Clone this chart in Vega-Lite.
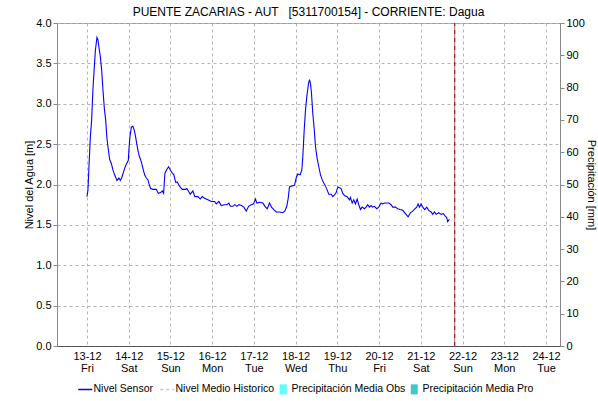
{
  "$schema": "https://vega.github.io/schema/vega-lite/v6.json",
  "width": 503,
  "height": 323,
  "autosize": {"type": "none"},
  "padding": {"left": 57, "top": 23, "right": 38, "bottom": 55},
  "background": "#ffffff",
  "config": {
    "font": "Liberation Sans",
    "view": {"stroke": "#999999", "strokeWidth": 1},
    "axis": {"labelFont": "Liberation Sans", "titleFont": "Liberation Sans", "labelFontSize": 11, "titleFontSize": 11, "titleFontWeight": "normal", "labelColor": "#000000", "titleColor": "#000000"}
  },
  "title": {
    "text": "PUENTE ZACARIAS - AUT \u00a0 [5311700154] - CORRIENTE: Dagua",
    "font": "Liberation Sans", "fontSize": 12, "fontWeight": "normal", "color": "#000000",
    "anchor": "middle", "frame": "group", "offset": -2
  },
  "encoding": {
    "x": {
      "field": "t", "type": "temporal",
      "scale": {"domain": [{"year": 2024, "month": 12, "date": 12, "hours": 6, "minutes": 46}, {"year": 2024, "month": 12, "date": 24, "hours": 8, "minutes": 4}]},
      "axis": {
        "title": null,
        "tickCount": {"interval": "day", "step": 1},
        "labelExpr": "[timeFormat(datum.value, '%d-%m'), timeFormat(datum.value, '%a')]",
        "grid": true, "gridDash": [3, 3], "gridColor": "#b4b4b4",
        "ticks": false,
        "domainColor": "#000000", "domainDash": [1, 1],
        "labelPadding": 4, "labelLineHeight": 12,
        "labelFlush": false, "labelOverlap": false, "labelBound": false
      }
    }
  },
  "layer": [
    {
      "data": {"values": [
        {"t": "2024-12-13T00:00", "v": 1.85},
        {"t": "2024-12-13T00:34", "v": 1.93},
        {"t": "2024-12-13T01:09", "v": 2.22},
        {"t": "2024-12-13T01:57", "v": 2.59},
        {"t": "2024-12-13T02:42", "v": 2.80},
        {"t": "2024-12-13T03:27", "v": 3.19},
        {"t": "2024-12-13T04:15", "v": 3.46},
        {"t": "2024-12-13T04:50", "v": 3.66},
        {"t": "2024-12-13T05:45", "v": 3.82},
        {"t": "2024-12-13T06:19", "v": 3.79},
        {"t": "2024-12-13T06:54", "v": 3.70},
        {"t": "2024-12-13T07:42", "v": 3.58},
        {"t": "2024-12-13T08:27", "v": 3.42},
        {"t": "2024-12-13T09:12", "v": 3.17},
        {"t": "2024-12-13T10:00", "v": 2.94},
        {"t": "2024-12-13T10:45", "v": 2.80},
        {"t": "2024-12-13T11:30", "v": 2.57},
        {"t": "2024-12-13T12:18", "v": 2.43},
        {"t": "2024-12-13T13:03", "v": 2.31},
        {"t": "2024-12-13T14:01", "v": 2.26},
        {"t": "2024-12-13T14:56", "v": 2.18},
        {"t": "2024-12-13T15:55", "v": 2.12},
        {"t": "2024-12-13T17:14", "v": 2.05},
        {"t": "2024-12-13T18:23", "v": 2.08},
        {"t": "2024-12-13T19:12", "v": 2.05},
        {"t": "2024-12-13T19:57", "v": 2.08},
        {"t": "2024-12-13T20:41", "v": 2.13},
        {"t": "2024-12-13T21:40", "v": 2.20},
        {"t": "2024-12-13T22:38", "v": 2.25},
        {"t": "2024-12-13T23:47", "v": 2.30},
        {"t": "2024-12-14T00:08", "v": 2.43},
        {"t": "2024-12-14T00:43", "v": 2.59},
        {"t": "2024-12-14T01:31", "v": 2.71},
        {"t": "2024-12-14T02:26", "v": 2.72},
        {"t": "2024-12-14T03:14", "v": 2.67},
        {"t": "2024-12-14T03:59", "v": 2.59},
        {"t": "2024-12-14T04:44", "v": 2.49},
        {"t": "2024-12-14T05:32", "v": 2.40},
        {"t": "2024-12-14T06:17", "v": 2.34},
        {"t": "2024-12-14T07:16", "v": 2.28},
        {"t": "2024-12-14T08:11", "v": 2.20},
        {"t": "2024-12-14T09:10", "v": 2.12},
        {"t": "2024-12-14T10:08", "v": 2.08},
        {"t": "2024-12-14T11:03", "v": 2.06},
        {"t": "2024-12-14T11:38", "v": 2.01},
        {"t": "2024-12-14T12:37", "v": 1.95},
        {"t": "2024-12-14T13:56", "v": 1.94},
        {"t": "2024-12-14T15:53", "v": 1.94},
        {"t": "2024-12-14T17:02", "v": 1.89},
        {"t": "2024-12-14T18:21", "v": 1.90},
        {"t": "2024-12-14T19:20", "v": 1.92},
        {"t": "2024-12-14T20:05", "v": 1.89},
        {"t": "2024-12-14T20:50", "v": 2.14},
        {"t": "2024-12-14T21:59", "v": 2.19},
        {"t": "2024-12-14T22:57", "v": 2.22},
        {"t": "2024-12-14T23:56", "v": 2.18},
        {"t": "2024-12-15T01:05", "v": 2.14},
        {"t": "2024-12-15T02:00", "v": 2.12},
        {"t": "2024-12-15T02:59", "v": 2.03},
        {"t": "2024-12-15T03:57", "v": 2.03},
        {"t": "2024-12-15T04:42", "v": 2.00},
        {"t": "2024-12-15T05:51", "v": 1.96},
        {"t": "2024-12-15T06:50", "v": 1.94},
        {"t": "2024-12-15T08:43", "v": 1.94},
        {"t": "2024-12-15T09:28", "v": 1.95},
        {"t": "2024-12-15T11:25", "v": 1.88},
        {"t": "2024-12-15T12:55", "v": 1.92},
        {"t": "2024-12-15T14:04", "v": 1.85},
        {"t": "2024-12-15T15:47", "v": 1.85},
        {"t": "2024-12-15T17:10", "v": 1.82},
        {"t": "2024-12-15T18:19", "v": 1.85},
        {"t": "2024-12-15T19:38", "v": 1.83},
        {"t": "2024-12-15T21:32", "v": 1.81},
        {"t": "2024-12-15T23:29", "v": 1.79},
        {"t": "2024-12-16T01:23", "v": 1.79},
        {"t": "2024-12-16T02:22", "v": 1.76},
        {"t": "2024-12-16T03:52", "v": 1.79},
        {"t": "2024-12-16T05:14", "v": 1.74},
        {"t": "2024-12-16T07:08", "v": 1.75},
        {"t": "2024-12-16T08:28", "v": 1.75},
        {"t": "2024-12-16T09:37", "v": 1.77},
        {"t": "2024-12-16T10:25", "v": 1.73},
        {"t": "2024-12-16T11:55", "v": 1.73},
        {"t": "2024-12-16T13:04", "v": 1.75},
        {"t": "2024-12-16T14:13", "v": 1.73},
        {"t": "2024-12-16T15:21", "v": 1.75},
        {"t": "2024-12-16T16:55", "v": 1.74},
        {"t": "2024-12-16T18:14", "v": 1.72},
        {"t": "2024-12-16T19:37", "v": 1.67},
        {"t": "2024-12-16T20:56", "v": 1.73},
        {"t": "2024-12-16T22:29", "v": 1.75},
        {"t": "2024-12-16T23:48", "v": 1.76},
        {"t": "2024-12-17T00:57", "v": 1.82},
        {"t": "2024-12-17T01:42", "v": 1.77},
        {"t": "2024-12-17T03:15", "v": 1.78},
        {"t": "2024-12-17T05:09", "v": 1.77},
        {"t": "2024-12-17T06:42", "v": 1.72},
        {"t": "2024-12-17T07:41", "v": 1.70},
        {"t": "2024-12-17T09:00", "v": 1.77},
        {"t": "2024-12-17T10:09", "v": 1.72},
        {"t": "2024-12-17T11:28", "v": 1.69},
        {"t": "2024-12-17T12:51", "v": 1.66},
        {"t": "2024-12-17T14:45", "v": 1.66},
        {"t": "2024-12-17T16:38", "v": 1.65},
        {"t": "2024-12-17T17:47", "v": 1.67},
        {"t": "2024-12-17T18:56", "v": 1.73},
        {"t": "2024-12-17T19:45", "v": 1.83},
        {"t": "2024-12-17T20:29", "v": 1.97},
        {"t": "2024-12-17T21:28", "v": 1.98},
        {"t": "2024-12-17T23:22", "v": 1.99},
        {"t": "2024-12-18T00:20", "v": 2.08},
        {"t": "2024-12-18T01:16", "v": 2.13},
        {"t": "2024-12-18T02:38", "v": 2.12},
        {"t": "2024-12-18T03:34", "v": 2.18},
        {"t": "2024-12-18T04:08", "v": 2.34},
        {"t": "2024-12-18T04:56", "v": 2.67},
        {"t": "2024-12-18T05:41", "v": 2.92},
        {"t": "2024-12-18T06:26", "v": 3.09},
        {"t": "2024-12-18T07:25", "v": 3.25},
        {"t": "2024-12-18T07:59", "v": 3.30},
        {"t": "2024-12-18T08:34", "v": 3.25},
        {"t": "2024-12-18T09:08", "v": 3.13},
        {"t": "2024-12-18T09:53", "v": 2.88},
        {"t": "2024-12-18T10:41", "v": 2.69},
        {"t": "2024-12-18T11:26", "v": 2.47},
        {"t": "2024-12-18T12:25", "v": 2.32},
        {"t": "2024-12-18T13:20", "v": 2.22},
        {"t": "2024-12-18T14:19", "v": 2.12},
        {"t": "2024-12-18T15:17", "v": 2.06},
        {"t": "2024-12-18T16:12", "v": 2.02},
        {"t": "2024-12-18T17:11", "v": 1.98},
        {"t": "2024-12-18T18:10", "v": 1.93},
        {"t": "2024-12-18T19:05", "v": 1.88},
        {"t": "2024-12-18T20:28", "v": 1.88},
        {"t": "2024-12-18T21:23", "v": 1.85},
        {"t": "2024-12-18T22:21", "v": 1.87},
        {"t": "2024-12-18T23:20", "v": 1.90},
        {"t": "2024-12-19T00:15", "v": 1.97},
        {"t": "2024-12-19T01:14", "v": 1.96},
        {"t": "2024-12-19T02:12", "v": 1.95},
        {"t": "2024-12-19T03:07", "v": 1.89},
        {"t": "2024-12-19T04:16", "v": 1.86},
        {"t": "2024-12-19T05:39", "v": 1.85},
        {"t": "2024-12-19T06:58", "v": 1.81},
        {"t": "2024-12-19T07:33", "v": 1.84},
        {"t": "2024-12-19T08:32", "v": 1.77},
        {"t": "2024-12-19T09:27", "v": 1.81},
        {"t": "2024-12-19T10:25", "v": 1.76},
        {"t": "2024-12-19T11:24", "v": 1.82},
        {"t": "2024-12-19T12:19", "v": 1.75},
        {"t": "2024-12-19T13:18", "v": 1.69},
        {"t": "2024-12-19T14:16", "v": 1.72},
        {"t": "2024-12-19T15:35", "v": 1.70},
        {"t": "2024-12-19T16:34", "v": 1.72},
        {"t": "2024-12-19T17:29", "v": 1.75},
        {"t": "2024-12-19T18:28", "v": 1.72},
        {"t": "2024-12-19T19:27", "v": 1.74},
        {"t": "2024-12-19T20:22", "v": 1.72},
        {"t": "2024-12-19T21:20", "v": 1.73},
        {"t": "2024-12-19T22:40", "v": 1.70},
        {"t": "2024-12-19T23:49", "v": 1.72},
        {"t": "2024-12-20T01:11", "v": 1.77},
        {"t": "2024-12-20T02:07", "v": 1.76},
        {"t": "2024-12-20T03:16", "v": 1.77},
        {"t": "2024-12-20T04:25", "v": 1.77},
        {"t": "2024-12-20T05:34", "v": 1.77},
        {"t": "2024-12-20T06:56", "v": 1.75},
        {"t": "2024-12-20T07:52", "v": 1.72},
        {"t": "2024-12-20T09:25", "v": 1.72},
        {"t": "2024-12-20T10:44", "v": 1.70},
        {"t": "2024-12-20T12:07", "v": 1.69},
        {"t": "2024-12-20T13:37", "v": 1.68},
        {"t": "2024-12-20T15:10", "v": 1.64},
        {"t": "2024-12-20T16:43", "v": 1.60},
        {"t": "2024-12-20T18:02", "v": 1.65},
        {"t": "2024-12-20T19:21", "v": 1.67},
        {"t": "2024-12-20T20:44", "v": 1.70},
        {"t": "2024-12-20T21:39", "v": 1.72},
        {"t": "2024-12-20T22:28", "v": 1.76},
        {"t": "2024-12-20T23:12", "v": 1.72},
        {"t": "2024-12-21T00:11", "v": 1.76},
        {"t": "2024-12-21T01:06", "v": 1.72},
        {"t": "2024-12-21T02:15", "v": 1.69},
        {"t": "2024-12-21T03:24", "v": 1.72},
        {"t": "2024-12-21T04:33", "v": 1.68},
        {"t": "2024-12-21T05:56", "v": 1.66},
        {"t": "2024-12-21T06:51", "v": 1.63},
        {"t": "2024-12-21T07:50", "v": 1.66},
        {"t": "2024-12-21T08:48", "v": 1.63},
        {"t": "2024-12-21T10:18", "v": 1.65},
        {"t": "2024-12-21T11:41", "v": 1.63},
        {"t": "2024-12-21T13:00", "v": 1.64},
        {"t": "2024-12-21T13:59", "v": 1.61},
        {"t": "2024-12-21T14:54", "v": 1.59},
        {"t": "2024-12-21T15:28", "v": 1.54},
        {"t": "2024-12-21T16:27", "v": 1.57}
      ]},
      "mark": {"type": "line", "strokeWidth": 1.1, "interpolate": "linear"},
      "encoding": {
        "y": {
          "field": "v", "type": "quantitative",
          "scale": {"domain": [0, 4], "nice": false},
          "axis": {
            "orient": "left", "title": "Nivel del Agua [m]",
            "values": [0, 0.5, 1, 1.5, 2, 2.5, 3, 3.5, 4], "format": ".1f",
            "grid": true, "gridDash": [3, 3], "gridColor": "#b4b4b4",
            "domainColor": "#888888", "tickColor": "#888888", "tickSize": 4,
            "labelPadding": 2, "titlePadding": 1
          }
        },
        "color": {
          "datum": "Nivel Sensor",
          "scale": {
            "domain": ["Nivel Sensor", "Nivel Medio Historico", "Precipitación Media Obs", "Precipitación Media Pro"],
            "range": ["#0000ff", "#c8c8c8", "#5cfcff", "#40c8c8"]
          },
          "legend": {
            "orient": "none", "legendX": 23, "legendY": 361,
            "direction": "horizontal", "title": null,
            "labelFont": "Liberation Sans", "labelFontSize": 10.5, "labelColor": "#000000",
            "symbolSize": 196, "symbolStrokeWidth": 1.5, "labelOffset": 3, "columnPadding": 3,
            "symbolType": "stroke",
            "encode": {
              "symbols": {
                "update": {
                  "shape": {"signal": "datum.value == 'Nivel Sensor' || datum.value == 'Nivel Medio Historico' ? 'stroke' : 'M-0.5,-0.72H0.5V0.72H-0.5Z'"},
                  "fill": {"signal": "datum.value == 'Nivel Sensor' || datum.value == 'Nivel Medio Historico' ? 'transparent' : scale('color', datum.value)"},
                  "strokeWidth": {"signal": "datum.value == 'Nivel Sensor' || datum.value == 'Nivel Medio Historico' ? 1.5 : 0"},
                  "strokeDash": {"signal": "datum.value == 'Nivel Medio Historico' ? [3, 3] : [1, 0]"}
                }
              }
            }
          }
        }
      }
    },
    {
      "data": {"values": [{"t": "2024-12-21T19:30"}]},
      "mark": {"type": "rule", "color": "#707070", "strokeWidth": 1},
      "encoding": {
        "y": {
          "datum": 0, "type": "quantitative",
          "scale": {"domain": [0, 100], "nice": false},
          "axis": {
            "orient": "right", "title": "Precipitación [mm]",
            "values": [0, 10, 20, 30, 40, 50, 60, 70, 80, 90, 100],
            "grid": false, "domainColor": "#888888", "tickColor": "#888888", "tickSize": 4,
            "labelPadding": 2, "titlePadding": 1
          }
        },
        "y2": {"datum": 100}
      }
    },
    {
      "data": {"values": [{"t": "2024-12-21T19:30"}]},
      "mark": {"type": "rule", "color": "#e00000", "strokeWidth": 1, "strokeDash": [4, 4]},
      "encoding": {
        "y": {"datum": 0, "type": "quantitative", "scale": {"domain": [0, 100], "nice": false}, "axis": null},
        "y2": {"datum": 100}
      }
    }
  ],
  "resolve": {"scale": {"y": "independent"}}
}
